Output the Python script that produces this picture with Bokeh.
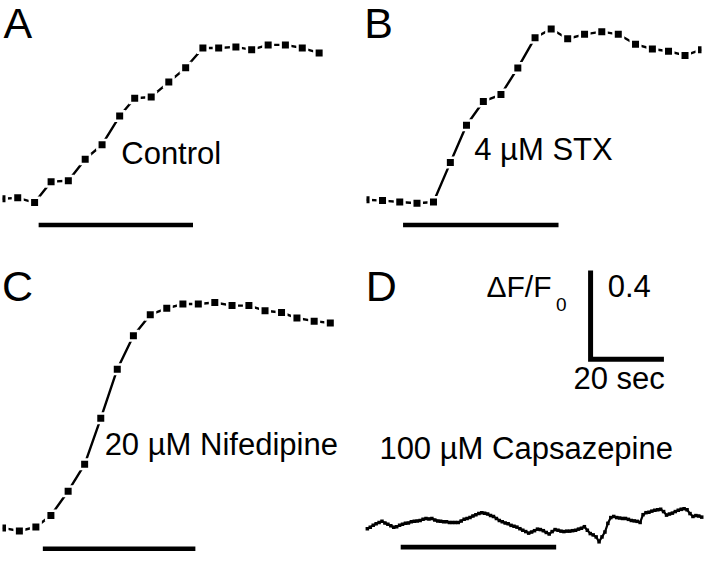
from bokeh.plotting import figure
from bokeh.layouts import column, row
from bokeh.models import Range1d, Label
from bokeh.embed import file_html
from bokeh.resources import INLINE

# ---------------- data (time in s from stimulus onset, dF/F0 from baseline) -------------
A_TIME = [-10.0, -5.7, -1.1, 3.4, 8.1, 12.7, 17.3, 22.1, 26.2, 30.7,
          35.5, 40.1, 44.8, 49.1, 53.8, 58.1, 62.6, 67.3, 71.9, 76.5]
A_DFF = [0.000, 0.004, -0.017, 0.077, 0.081, 0.178, 0.243, 0.372, 0.452, 0.458,
         0.525, 0.589, 0.678, 0.678, 0.683, 0.670, 0.692, 0.692, 0.678, 0.656]

B_TIME = [-10.1, -5.6, -0.9, 3.8, 8.3, 12.9, 17.3, 21.9, 26.7, 31.3,
          36.0, 40.4, 44.9, 49.5, 54.2, 58.7, 63.4, 68.0, 72.4, 76.9, 81.4]
B_DFF = [0.000, -0.004, -0.010, -0.016, -0.010, 0.167, 0.335, 0.442, 0.473, 0.593,
         0.729, 0.768, 0.724, 0.744, 0.756, 0.744, 0.699, 0.678, 0.668, 0.649, 0.675]

C_TIME = [-11.0, -6.4, -1.9, 2.2, 6.9, 11.4, 15.8, 20.3, 24.7, 29.3,
          33.8, 38.2, 42.4, 46.9, 51.6, 56.2, 60.6, 65.1, 69.3, 74.0, 78.4]
C_DFF = [0.000, -0.014, 0.004, 0.056, 0.165, 0.286, 0.493, 0.714, 0.864, 0.959,
         0.988, 1.007, 1.007, 1.014, 1.000, 1.000, 0.977, 0.969, 0.944, 0.930, 0.922]

D_TIME = [-9.1, -8.3, -7.5, -6.7, -5.9, -5.1, -4.3, -3.5, -2.7, -1.9,
          -1.1, -0.3, 0.5, 1.3, 2.1, 2.9, 3.7, 4.5, 5.3, 6.1,
          6.9, 7.7, 8.5, 9.3, 10.1, 10.9, 11.7, 12.5, 13.3, 14.1,
          14.9, 15.7, 16.5, 17.3, 18.1, 18.9, 19.7, 20.5, 21.3, 22.1,
          22.9, 23.7, 24.5, 25.3, 26.1, 26.9, 27.7, 28.5, 29.3, 30.1,
          30.9, 31.7, 32.5, 33.3, 34.1, 34.9, 35.7, 36.5, 37.3, 38.1,
          38.9, 39.7, 40.5, 41.3, 42.1, 42.9, 43.7, 44.5, 45.3, 46.1,
          46.9, 47.7, 48.5, 49.3, 50.1, 50.9, 51.7, 52.5, 53.3, 54.1,
          54.9, 55.7, 56.5, 57.3, 58.1, 58.9, 59.7, 60.5, 61.3, 62.1,
          62.9, 63.7, 64.5, 65.3, 66.1, 66.9, 67.7, 68.5, 69.3, 70.1,
          70.9, 71.7, 72.5, 73.3, 74.1, 74.9, 75.7, 76.5, 77.3, 78.1,
          78.9, 79.7, 80.5, 81.3, 82.1]
D_DFF = [0.000, 0.007, 0.015, 0.022, 0.028, 0.033, 0.026, 0.020, 0.013, 0.007,
         0.009, 0.015, 0.020, 0.024, 0.026, 0.031, 0.033, 0.035, 0.037, 0.042,
         0.046, 0.044, 0.046, 0.039, 0.035, 0.033, 0.031, 0.031, 0.028, 0.028,
         0.028, 0.028, 0.035, 0.042, 0.046, 0.050, 0.057, 0.063, 0.068, 0.072,
         0.070, 0.066, 0.059, 0.055, 0.046, 0.037, 0.031, 0.026, 0.022, 0.015,
         0.011, 0.007, 0.000, -0.007, -0.013, -0.020, -0.015, -0.009, -0.002, -0.004,
         -0.009, -0.017, -0.024, -0.013, -0.004, -0.007, -0.011, -0.013, -0.011, -0.011,
         -0.009, -0.007, -0.002, 0.002, 0.009, -0.007, -0.022, -0.028, -0.037, -0.059,
         -0.037, -0.015, 0.024, 0.050, 0.055, 0.050, 0.048, 0.046, 0.046, 0.042,
         0.037, 0.035, 0.033, 0.028, 0.063, 0.072, 0.074, 0.079, 0.083, 0.085,
         0.087, 0.077, 0.061, 0.066, 0.070, 0.077, 0.083, 0.087, 0.090, 0.085,
         0.068, 0.055, 0.059, 0.057, 0.052]

STIM_SEC = {"A": 42.1, "B": 42.4, "C": 41.6, "D": 42.4}
SCALE_SEC = 20
SCALE_DFF = 0.4

LETTERS = ["A", "B", "C", "D"]
CONDITIONS = ["Control", "4 \u00b5M STX", "20 \u00b5M Nifedipine", "100 \u00b5M Capsazepine"]
SCALE_Y_LABEL = "\u0394F/F"
SCALE_Y_SUB = "0"
SCALE_Y_VALUE = "0.4"
SCALE_X_LABEL = "20 sec"

# ---------------- layout / geometry (reference-pixel placement) ----------------
SX = 704 / 720
SY = 552 / 568
REF_PX_SEC = 3.75
REF_PX_UNIT = 228.75
PX_SEC = REF_PX_SEC * SX
PX_UNIT = REF_PX_UNIT * SY
FONT = "Liberation Sans"
ROW2 = 262 / SY
BASELINE_FIX = 0.39  # em; compensates the renderer's baseline placement

# col0, row0, width, height, clip_left, clip_right, onset_x, baseline_y, bar_y
GEOM = {
    "A": (0, 0, 352, 262, 1.7, 360, 39.0, 204.0, 231.0),
    "B": (360, 0, 352, 262, 374.7, 717.3, 411.7, 205.0, 231.0),
    "C": (0, ROW2, 352, 290, 1.7, 360, 43.3, 542.7, 564.2),
    "D": (360, ROW2, 352, 290, 360, 720, 409.3, 543.5, 562.5),
}


def make_panel(key, time, dff, labels, dense=False, scale=False):
    col0, row0, W, H, clip_l, clip_r, onset, base, bar_y = GEOM[key]
    bl = round((clip_l - col0) * SX)
    br = round((col0 + W / SX - clip_r) * SX)
    fw = W - bl - br
    frame_left = col0 + bl / SX
    frame_bottom = row0 + H / SY
    x0 = (frame_left - onset) / REF_PX_SEC
    x1 = x0 + fw / PX_SEC
    y1 = (base - row0) / REF_PX_UNIT
    y0 = y1 - H / PX_UNIT

    def at(xr, yr):
        return (xr - onset) / REF_PX_SEC, (base - yr) / REF_PX_UNIT

    p = figure(width=W, height=H, x_range=Range1d(x0, x1), y_range=Range1d(y0, y1),
               output_backend="svg", toolbar_location=None,
               x_axis_location=None, y_axis_location=None,
               min_border=0, min_border_left=bl, min_border_right=br,
               min_border_top=0, min_border_bottom=0,
               outline_line_color=None, background_fill_color="white",
               border_fill_color="white")
    p.grid.visible = False

    # stimulus bar
    _, by = at(0, bar_y)
    p.line(x=[0, STIM_SEC[key]], y=[by, by], line_width=4.6, line_color="black",
           line_cap="butt")

    if dense:
        p.line(x=time, y=dff, line_width=2.2, line_color="black")
        p.scatter(x=time, y=dff, marker="square", size=3.5, fill_color="black",
                  line_color=None)
    else:
        p.line(x=time, y=dff, line_width=2.4, line_color="black")
        p.scatter(x=time, y=dff, marker="square", size=12, fill_color="white",
                  line_color=None)
        p.scatter(x=time, y=dff, marker="square", size=7, fill_color="black",
                  line_color=None)

    if scale:
        cx, cy = at(603.5, 369.2)
        p.line(x=[cx, cx, cx + SCALE_SEC], y=[cy + SCALE_DFF, cy, cy],
               line_width=5, line_color="black", line_join="miter", line_cap="butt")

    for text, xr, yr, size in labels:
        sy = (frame_bottom - yr) * SY + BASELINE_FIX * size
        p.add_layout(Label(x=(xr - frame_left) * SX, y=sy,
                           x_units="screen", y_units="screen",
                           text=text, text_font=FONT,
                           text_font_size=f"{size}px", text_color="black",
                           text_align="left", text_baseline="alphabetic"))
    return p


pA = make_panel("A", A_TIME, A_DFF,
                [(LETTERS[0], 3.0, 40.5, 43), (CONDITIONS[0], 123.5, 170, 31)])
pB = make_panel("B", B_TIME, B_DFF,
                [(LETTERS[1], 372.0, 40.5, 43), (CONDITIONS[1], 484.5, 166, 31)])
pC = make_panel("C", C_TIME, C_DFF,
                [(LETTERS[2], 1.5, 311, 43), (CONDITIONS[2], 106.5, 469, 31)])
pD = make_panel("D", D_TIME, D_DFF,
                [(LETTERS[3], 373.5, 311.5, 43), (CONDITIONS[3], 387.5, 473, 31),
                 (SCALE_Y_LABEL, 497.0, 306.7, 30), (SCALE_Y_SUB, 568.0, 320, 19),
                 (SCALE_Y_VALUE, 621.0, 306.7, 31), (SCALE_X_LABEL, 586.0, 401.7, 31)],
                dense=True, scale=True)

layout = column(row(pA, pB), row(pC, pD))

with open("out.html", "w") as f:
    f.write(file_html(layout, INLINE))
